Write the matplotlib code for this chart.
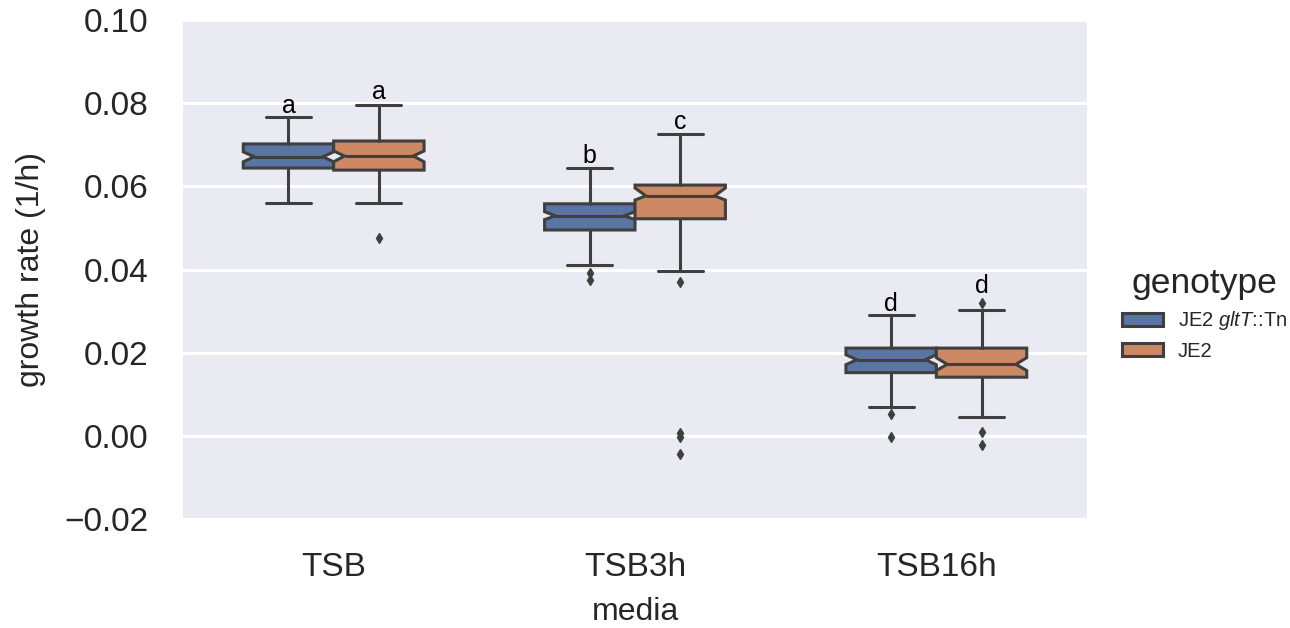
import matplotlib
matplotlib.use("Agg")
import matplotlib.pyplot as plt
import seaborn as sns
import colorsys
import numpy as np
from matplotlib.patches import Patch
from matplotlib.path import Path

# ---------------- data ----------------
media = ["TSB", "TSB3h", "TSB16h"]
genotypes = ["JE2 $\\mathit{gltT}$::Tn", "JE2"]

# JE2 gltT::Tn (blue)
mut_med = [0.0671, 0.0529, 0.0183]
mut_q1 = [0.0644, 0.0495, 0.0152]
mut_q3 = [0.0702, 0.0558, 0.0211]
mut_whislo = [0.0561, 0.0412, 0.0070]
mut_whishi = [0.0766, 0.0645, 0.0290]
mut_cilo = [0.0659, 0.0520, 0.0171]
mut_cihi = [0.0683, 0.0539, 0.0195]
mut_fliers = [[], [0.0391, 0.0375], [0.0053, -0.0004]]

# JE2 (orange)
wt_med = [0.0673, 0.0577, 0.0172]
wt_q1 = [0.0639, 0.0522, 0.0141]
wt_q3 = [0.0709, 0.0603, 0.0211]
wt_whislo = [0.0561, 0.0397, 0.0045]
wt_whishi = [0.0796, 0.0726, 0.0303]
wt_cilo = [0.0659, 0.0567, 0.0157]
wt_cihi = [0.0685, 0.0596, 0.0188]
wt_fliers = [[0.0475], [0.0371, 0.0006, -0.0002, -0.0044], [0.0320, 0.0010, -0.0022]]

# significance letters and their heights
mut_letters = ["a", "b", "d"]
wt_letters = ["a", "c", "d"]
mut_letter_y = [0.0776, 0.0656, 0.0301]
wt_letter_y = [0.0810, 0.0737, 0.0344]

# ---------------- style ----------------
sns.set_theme(style="darkgrid")
plt.rcParams["font.family"] = ["Liberation Sans", "DejaVu Sans"]
plt.rcParams["mathtext.fontset"] = "custom"
plt.rcParams["mathtext.rm"] = "Liberation Sans"
plt.rcParams["mathtext.it"] = "Liberation Sans:italic"


def desat(hexcol, prop=0.75):
    r, g, b = matplotlib.colors.to_rgb(hexcol)
    h, l, s = colorsys.rgb_to_hls(r, g, b)
    return colorsys.hls_to_rgb(h, l, s * prop)


colors = [desat("#4C72B0"), desat("#DD8452")]
edge = "#3f3f3f"
lw = 2.2
box_w = 0.3
notch_depth = 0.12  # fraction of box width the notch cuts in on each side

fig = plt.figure(figsize=(12.9, 6.28), dpi=100)
W, H = 1290, 628
ax = fig.add_axes([183 / W, 1 - 519 / H, 904 / W, 499 / H])
ax.set_facecolor("#EAEAF2")


def make_stats(med, q1, q3, lo, hi, cilo, cihi, fliers):
    out = []
    for i in range(len(med)):
        out.append(dict(med=med[i], q1=q1[i], q3=q3[i], whislo=lo[i], whishi=hi[i],
                        cilo=cilo[i], cihi=cihi[i], fliers=np.array(fliers[i]), mean=med[i]))
    return out


series = [
    make_stats(mut_med, mut_q1, mut_q3, mut_whislo, mut_whishi, mut_cilo, mut_cihi, mut_fliers),
    make_stats(wt_med, wt_q1, wt_q3, wt_whislo, wt_whishi, wt_cilo, wt_cihi, wt_fliers),
]
offsets = [-0.15, 0.15]
x = np.arange(len(media))

for k, stats in enumerate(series):
    pos = x + offsets[k]
    res = ax.bxp(stats, positions=pos, widths=box_w, patch_artist=True,
                 shownotches=True, manage_ticks=False,
                 boxprops=dict(facecolor=colors[k], edgecolor=edge, linewidth=lw),
                 medianprops=dict(color=edge, linewidth=lw),
                 whiskerprops=dict(color=edge, linewidth=lw),
                 capprops=dict(color=edge, linewidth=lw),
                 flierprops=dict(marker="d", markerfacecolor=edge, markeredgecolor=edge,
                                 markersize=5.5))
    # make the notches shallower (as in the reference rendering)
    for p, patch, medline in zip(pos, res["boxes"], res["medians"]):
        path = patch.get_path()
        v = path.vertices.copy()
        half = box_w / 2
        inner = half - box_w * notch_depth
        for j in range(len(v)):
            dx = v[j, 0] - p
            if abs(abs(dx) - half) > 1e-9 and abs(dx) > 1e-9:
                v[j, 0] = p + np.sign(dx) * inner
        patch.set_path(Path(v, path.codes))
        medline.set_xdata([p - inner, p + inner])

for k, (letters, ly) in enumerate([(mut_letters, mut_letter_y), (wt_letters, wt_letter_y)]):
    for i in range(len(media)):
        ax.text(x[i] + offsets[k], ly[i], letters[i], ha="center", va="baseline",
                fontsize=18, color="black")

ax.set_xlim(-0.5, 2.5)
ax.set_ylim(-0.02, 0.10)
ax.set_xticks(x)
ax.set_xticklabels(media)
ax.set_yticks(np.arange(-0.02, 0.1001, 0.02))
ax.set_yticklabels(["\u22120.02", "0.00", "0.02", "0.04", "0.06", "0.08", "0.10"])
ax.tick_params(axis="x", labelsize=24, pad=24, length=0, colors="#262626")
ax.tick_params(axis="y", labelsize=24, pad=25, length=0, colors="#262626")
ax.xaxis.grid(False)
ax.yaxis.grid(True, color="white", linewidth=2.2)
for s in ax.spines.values():
    s.set_visible(False)

ax.set_xlabel("media", fontsize=23, color="#262626")
ax.set_ylabel("growth rate (1/h)", fontsize=23, color="#262626")
ax.xaxis.set_label_coords(0.5, -0.157)
ax.yaxis.set_label_coords(-0.152, 0.5)

handles = [Patch(facecolor=colors[k], edgecolor=edge, linewidth=lw) for k in range(2)]
leg = fig.legend(handles, genotypes, loc="center left", bbox_to_anchor=(1104 / W, 0.5),
                 frameon=False, fontsize=14.5, title="genotype", title_fontsize=25.5,
                 handlelength=2.05, handleheight=0.65, handletextpad=0.7, labelspacing=0.45)
leg.get_title().set_color("#262626")

fig.savefig("out.png", dpi=100)
